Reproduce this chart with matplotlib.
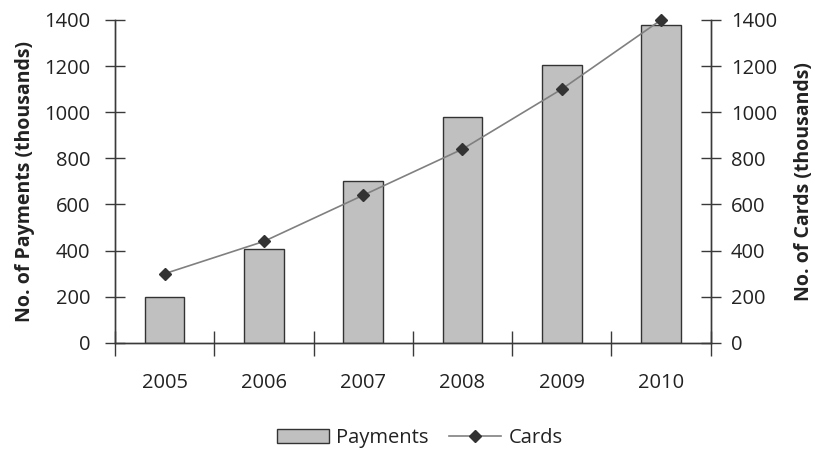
import numpy as np
import matplotlib.pyplot as plt

plt.rcParams['font.family'] = ['Open Sans', 'DejaVu Sans']

years = ['2005', '2006', '2007', '2008', '2009', '2010']
payments = [200, 405, 700, 980, 1205, 1380]
cards = [300, 440, 640, 840, 1100, 1400]
y_ticks = [0, 200, 400, 600, 800, 1000, 1200, 1400]

x = np.arange(len(years))
axis_color = '#3a3a3a'
text_color = '#222222'

fig = plt.figure(figsize=(8.15, 4.53), dpi=100)
ax = fig.add_axes([0.141, 0.243, 0.731, 0.713])
ax2 = ax.twinx()

bars = ax.bar(x, payments, width=0.4, color='#c0c0c0', edgecolor='#333333',
              linewidth=1.0, label='Payments', zorder=2)
line, = ax2.plot(x, cards, color='#808080', linewidth=1.2, marker='D',
                 markersize=6.5, markerfacecolor='#333333',
                 markeredgecolor='#333333', label='Cards', zorder=3,
                 clip_on=False)

for a in (ax, ax2):
    a.set_ylim(0, 1400)
    a.set_yticks(y_ticks)
    a.set_xlim(-0.5, len(years) - 0.5)
    a.spines['top'].set_visible(False)
    for s in ('left', 'right', 'bottom'):
        a.spines[s].set_color(axis_color)
        a.spines[s].set_linewidth(1.0)
    a.tick_params(axis='y', direction='inout', length=15, width=1.0,
                  color=axis_color, labelsize=14.5, labelcolor=text_color)
ax.tick_params(axis='y', pad=10)
ax2.tick_params(axis='y', pad=7)

# category labels in the middle, tick marks on the boundaries
ax.set_xticks(x)
ax.set_xticklabels(years)
ax.tick_params(axis='x', which='major', length=0, labelsize=14.5,
               labelcolor=text_color, pad=22)
ax.set_xticks(np.arange(-0.5, len(years)), minor=True)
ax.tick_params(axis='x', which='minor', direction='inout', length=18,
               width=1.0, color=axis_color)

ax.set_ylabel('No. of Payments (thousands)', fontsize=14, fontweight='bold',
              color=text_color, labelpad=7)
ax2.set_ylabel('No. of Cards (thousands)', fontsize=14, fontweight='bold',
               color=text_color, labelpad=12)

fig.legend([bars, line], ['Payments', 'Cards'], loc='center',
           bbox_to_anchor=(0.515, 0.033), ncol=2, frameon=False, fontsize=14.5,
           handlelength=2.6, handleheight=0.7, columnspacing=1.0,
           handletextpad=0.35, labelcolor=text_color)

fig.savefig('out.png', dpi=100)
